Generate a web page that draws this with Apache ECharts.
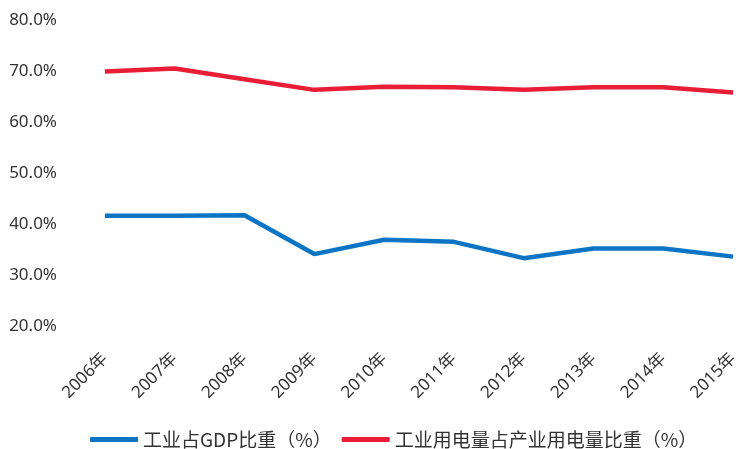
<!DOCTYPE html>
<html>
<head>
<meta charset="utf-8">
<script src="https://cdn.jsdelivr.net/npm/echarts@6/dist/echarts.min.js"></script>
<style>
html,body{margin:0;padding:0;background:#fff;overflow:hidden;width:736px;height:449px;}
#chart{width:770px;height:449px;}
</style>
</head>
<body>
<div id="chart"></div>
<script>
var categories = ['2006年','2007年','2008年','2009年','2010年','2011年','2012年','2013年','2014年','2015年'];
var seriesNames = ['工业占GDP比重（%）', '工业用电量占产业用电量比重（%）'];
var industryGdpShare = [41.6, 41.6, 41.7, 34.1, 36.9, 36.5, 33.3, 35.2, 35.2, 33.6];
var industryPowerShare = [69.9, 70.5, 68.4, 66.3, 66.9, 66.8, 66.3, 66.8, 66.8, 65.8];
var yTicks = [20, 30, 40, 50, 60, 70, 80];

var chart = echarts.init(document.getElementById('chart'), null, {renderer: 'canvas'});
var fontAxis = '"Noto Sans", "Noto Sans CJK SC", sans-serif';
var option = {
  animation: false,
  backgroundColor: '#ffffff',
  grid: { left: 70, top: 20, width: 698, bottom: 123, containLabel: false },
  legend: {
    left: 85,
    top: 425,
    itemWidth: 48,
    itemHeight: 5,
    itemGap: 10,
    icon: 'roundRect',
    textStyle: { fontSize: 19, color: '#333333', fontFamily: '"Noto Sans CJK SC", sans-serif' },
    data: seriesNames
  },
  xAxis: {
    type: 'category',
    data: categories,
    boundaryGap: true,
    axisLine: { show: false },
    axisTick: { show: false },
    axisLabel: { rotate: 45, margin: 30, fontSize: 17, color: '#333333', fontFamily: fontAxis, interval: 0 }
  },
  yAxis: {
    type: 'value',
    min: yTicks[0],
    max: yTicks[yTicks.length - 1],
    interval: yTicks[1] - yTicks[0],
    splitLine: { show: false },
    axisLine: { show: false },
    axisTick: { show: false },
    axisLabel: {
      margin: 13, fontSize: 17, color: '#333333', fontFamily: fontAxis,
      formatter: function (v) { return v.toFixed(1) + '%'; }
    }
  },
  series: [
    {
      name: seriesNames[0], type: 'line', data: industryGdpShare,
      symbol: 'none', lineStyle: { width: 4.5, color: '#0B74C4' }, itemStyle: { color: '#0B74C4' }
    },
    {
      name: seriesNames[1], type: 'line', data: industryPowerShare,
      symbol: 'none', lineStyle: { width: 4.5, color: '#E91E36' }, itemStyle: { color: '#E91E36' }
    }
  ]
};
chart.setOption(option);
</script>
</body>
</html>
